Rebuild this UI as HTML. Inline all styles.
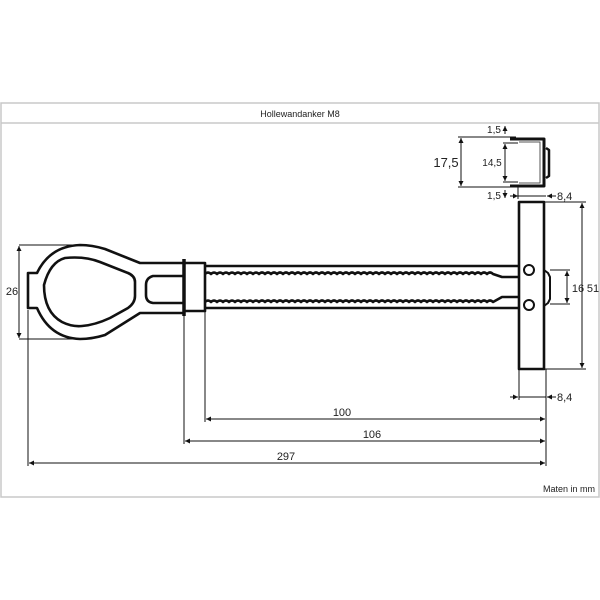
<!DOCTYPE html>
<html><head><meta charset="utf-8"><style>
html,body{margin:0;padding:0;background:#fff;width:600px;height:600px;overflow:hidden}
svg{display:block}
text{font-family:"Liberation Sans",sans-serif;fill:#222}
</style></head><body>
<svg width="600" height="600" viewBox="0 0 600 600" xmlns="http://www.w3.org/2000/svg">
<defs>
<marker id="a" viewBox="0 0 10 10" refX="10" refY="5" markerWidth="7" markerHeight="5" orient="auto-start-reverse" markerUnits="userSpaceOnUse"><path d="M0,0L10,5L0,10z" fill="#111"/></marker>
</defs>
<!-- frame -->
<rect x="1" y="103" width="598" height="394" fill="none" stroke="#c8c8c8" stroke-width="1.5"/>
<line x1="1" y1="123" x2="599" y2="123" stroke="#c8c8c8" stroke-width="1.5"/>
<text x="300" y="117" font-size="9" text-anchor="middle">Hollewandanker M8</text>
<text x="595" y="492" font-size="9" text-anchor="end">Maten in mm</text>

<g fill="none" stroke="#111" stroke-width="2.6" stroke-linejoin="round">
<!-- eye outer -->
<path d="M184,263 L140,263 L105,249 Q92,245 80,245 Q50,246 37,273 L28,273 L28,308 L37,308 Q50,338 80,339 Q92,339 105,335 L140,313 L184,313"/>
<!-- eye inner -->
<path d="M65,258 Q50,262 44,285 Q44,312 62,322 Q72,327 82,326 Q95,325 110,318 L128,308 Q135,303 135,296 L135,282 Q135,276 128,273 L100,262 Q85,256 65,258 Z"/>
<!-- slot -->
<path d="M184,276 L153,276 Q146,278 146,285 L146,295 Q146,302 153,303 L184,303"/>
<!-- collar -->
<line x1="184" y1="259" x2="184" y2="316" stroke-width="3.5"/>
<rect x="184" y="263" width="21" height="48"/>
<!-- rod -->
<line x1="205" y1="266" x2="519" y2="266"/>
<line x1="205" y1="308" x2="519" y2="308"/>
<path d="M205,274 Q208,271 211,274 Q214,271 217,274 Q220,271 223,274 Q226,271 229,274 Q232,271 235,274 Q238,271 241,274 Q244,271 247,274 Q250,271 253,274 Q256,271 259,274 Q262,271 265,274 Q268,271 271,274 Q274,271 277,274 Q280,271 283,274 Q286,271 289,274 Q292,271 295,274 Q298,271 301,274 Q304,271 307,274 Q310,271 313,274 Q316,271 319,274 Q322,271 325,274 Q328,271 331,274 Q334,271 337,274 Q340,271 343,274 Q346,271 349,274 Q352,271 355,274 Q358,271 361,274 Q364,271 367,274 Q370,271 373,274 Q376,271 379,274 Q382,271 385,274 Q388,271 391,274 Q394,271 397,274 Q400,271 403,274 Q406,271 409,274 Q412,271 415,274 Q418,271 421,274 Q424,271 427,274 Q430,271 433,274 Q436,271 439,274 Q442,271 445,274 Q448,271 451,274 Q454,271 457,274 Q460,271 463,274 Q466,271 469,274 Q472,271 475,274 Q478,271 481,274 Q484,271 487,274 Q490,271 493,274 L502,277 L519,277"/>
<path d="M205,302 Q208,299 211,302 Q214,299 217,302 Q220,299 223,302 Q226,299 229,302 Q232,299 235,302 Q238,299 241,302 Q244,299 247,302 Q250,299 253,302 Q256,299 259,302 Q262,299 265,302 Q268,299 271,302 Q274,299 277,302 Q280,299 283,302 Q286,299 289,302 Q292,299 295,302 Q298,299 301,302 Q304,299 307,302 Q310,299 313,302 Q316,299 319,302 Q322,299 325,302 Q328,299 331,302 Q334,299 337,302 Q340,299 343,302 Q346,299 349,302 Q352,299 355,302 Q358,299 361,302 Q364,299 367,302 Q370,299 373,302 Q376,299 379,302 Q382,299 385,302 Q388,299 391,302 Q394,299 397,302 Q400,299 403,302 Q406,299 409,302 Q412,299 415,302 Q418,299 421,302 Q424,299 427,302 Q430,299 433,302 Q436,299 439,302 Q442,299 445,302 Q448,299 451,302 Q454,299 457,302 Q460,299 463,302 Q466,299 469,302 Q472,299 475,302 Q478,299 481,302 Q484,299 487,302 Q490,299 493,302 L502,297 L519,297"/>
<!-- plate -->
<rect x="519" y="202" width="25" height="167"/>
<circle cx="529" cy="270" r="5" stroke-width="2"/>
<circle cx="529" cy="305" r="5" stroke-width="2"/>
<path d="M544,270 L548,273 L550,277 L550,299 L548,303 L544,306" stroke-width="2"/>
<!-- U channel -->
<path d="M510,139 L519,139 L544,139 L544,186 L519,186 L510,186" stroke-width="3"/>
<path d="M519,142 L540,142 L540,183 L519,183" stroke-width="1" stroke="#555"/>
<path d="M546,148 L549,150 L549,176 L546,178" stroke-width="2.5"/>
</g>

<!-- dimension lines -->
<g stroke="#111" stroke-width="1" fill="none">
<!-- 26 -->
<line x1="19" y1="245" x2="80" y2="245"/>
<line x1="19" y1="339" x2="80" y2="339"/>
<line x1="19" y1="246" x2="19" y2="338" marker-start="url(#a)" marker-end="url(#a)"/>
<!-- extension lines down -->
<line x1="28" y1="310" x2="28" y2="466"/>
<line x1="184" y1="316" x2="184" y2="444"/>
<line x1="205" y1="312" x2="205" y2="422"/>
<line x1="546" y1="369" x2="546" y2="466"/>
<line x1="519" y1="369" x2="519" y2="400"/>
<!-- 100 106 297 -->
<line x1="206" y1="419" x2="545" y2="419" marker-start="url(#a)" marker-end="url(#a)"/>
<line x1="185" y1="441" x2="545" y2="441" marker-start="url(#a)" marker-end="url(#a)"/>
<line x1="29" y1="463" x2="545" y2="463" marker-start="url(#a)" marker-end="url(#a)"/>
<!-- 8,4 lower -->
<line x1="510" y1="397" x2="518" y2="397" marker-end="url(#a)"/>
<line x1="519" y1="397" x2="546" y2="397"/>
<line x1="556" y1="397" x2="547" y2="397" marker-end="url(#a)"/>
<!-- 51 -->
<line x1="544" y1="202" x2="586" y2="202"/>
<line x1="544" y1="369" x2="586" y2="369"/>
<line x1="582" y1="203" x2="582" y2="368" marker-start="url(#a)" marker-end="url(#a)"/>
<!-- 16 -->
<line x1="550" y1="270" x2="570" y2="270"/>
<line x1="550" y1="304" x2="570" y2="304"/>
<line x1="567" y1="271" x2="567" y2="303" marker-start="url(#a)" marker-end="url(#a)"/>
<!-- top: 17,5 -->
<line x1="458" y1="137" x2="516" y2="137"/>
<line x1="458" y1="187" x2="516" y2="187"/>
<line x1="461" y1="138" x2="461" y2="186" marker-start="url(#a)" marker-end="url(#a)"/>
<!-- 14,5 -->
<line x1="503" y1="143" x2="518" y2="143"/>
<line x1="503" y1="182" x2="518" y2="182"/>
<line x1="505" y1="144" x2="505" y2="181" marker-start="url(#a)" marker-end="url(#a)"/>
<!-- 1.5 arrows -->
<line x1="505" y1="134" x2="505" y2="126" marker-end="url(#a)"/>
<line x1="505" y1="190" x2="505" y2="198" marker-end="url(#a)"/>
<!-- 8,4 top -->
<line x1="518" y1="187" x2="518" y2="199"/>
<line x1="510" y1="196" x2="518" y2="196" marker-end="url(#a)"/>
<line x1="518" y1="196" x2="546" y2="196"/>
<line x1="556" y1="196" x2="547" y2="196" marker-end="url(#a)"/>
</g>

<g font-size="11">
<text x="12" y="295" text-anchor="middle">26</text>
<text x="342" y="416" text-anchor="middle">100</text>
<text x="372" y="438" text-anchor="middle">106</text>
<text x="286" y="460" text-anchor="middle">297</text>
<text x="557" y="401">8,4</text>
<text x="557" y="200">8,4</text>
<text x="578" y="292" text-anchor="middle">16</text>
<text x="593" y="292" text-anchor="middle">51</text>
<text x="492" y="166" text-anchor="middle" font-size="10">14,5</text>
<text x="446" y="167" text-anchor="middle" font-size="13">17,5</text>
<text x="494" y="133" text-anchor="middle" font-size="10">1,5</text>
<text x="494" y="199" text-anchor="middle" font-size="10">1,5</text>
</g>
</svg>
</body></html>
